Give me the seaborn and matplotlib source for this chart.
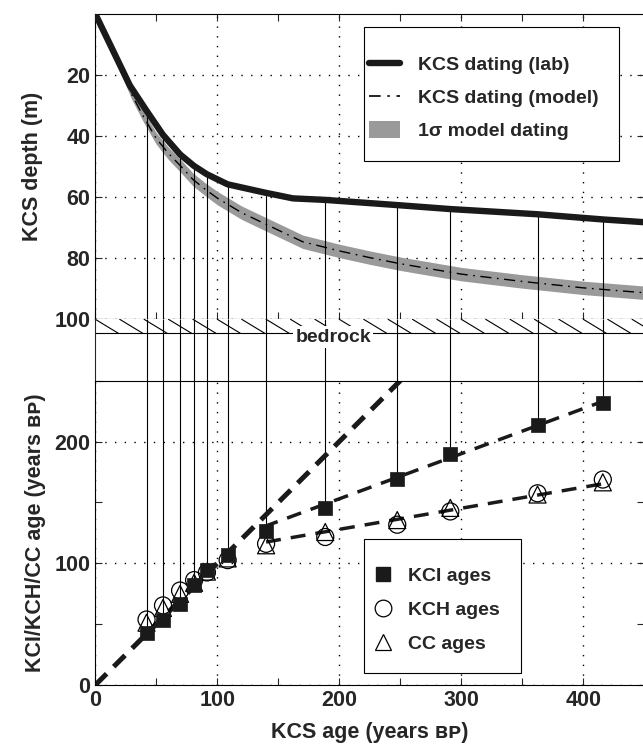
import numpy as np
import pandas as pd
import seaborn as sns
import matplotlib.pyplot as plt
from matplotlib.lines import Line2D
from matplotlib.patches import Patch, Rectangle
from matplotlib.ticker import MultipleLocator

# sample ages (KCS) where lab dating and the ice-core ages were compared
kcs_age = [42, 55.5, 69.5, 81, 91.5, 108.5, 140, 188.5, 247.5, 291, 362.5, 416]
lab_top = [31.7, 39.6, 46.0, 49.8, 52.5, 55.8, 58.6, 60.9, 62.6, 63.9, 65.6, 67.3]
kci_age = [42.6, 53.6, 66.4, 82.5, 94.4, 106.9, 126.8, 145.5, 169.5, 189.7, 213.5, 231.9]
kch_age = [53.8, 65.4, 77.6, 86.2, 92.5, 102.6, 116.0, 121.6, 131.7, 142.6, 157.5, 168.8]
cc_age = [51.2, 63.3, 74.9, 84.0, 93.2, 104.0, 114.8, 125.7, 135.5, 145.5, 156.5, 166.5]

# KCS depth/age curves
lab_age = [0, 28.3, 42, 55.5, 69.5, 81, 91.5, 108.5, 140, 162, 188.5, 247.5, 291, 362.5, 416, 450]
lab_depth = [0, 23.4, 31.7, 39.6, 46.0, 49.8, 52.5, 55.8, 58.6, 60.4, 60.9, 62.6, 63.9, 65.6, 67.3, 68.2]
model_age = [0, 10, 20, 30, 40, 50, 60, 70, 80, 90, 100, 120, 140, 170, 200, 225, 250, 300, 350, 400, 450]
model_depth = [0, 8.5, 17.5, 26.5, 34.0, 40.8, 45.7, 49.8, 54.2, 57.4, 60.3, 65.1, 68.9, 74.6, 77.6,
               79.8, 81.8, 85.2, 87.6, 89.7, 91.3]
model_sigma = [0, 0.8, 1.3, 1.6, 1.8, 1.9, 2.0, 2.1, 2.1, 2.1, 2.2, 2.2, 2.2, 2.2, 2.2,
               2.2, 2.2, 2.2, 2.2, 2.2, 2.2]

# dashed trend lines in the lower panel
one_x = [0, 250]
one_y = [0, 250]
kci_trend_x = [138, 420]
kci_trend_y = [130, 234.5]
cc_trend_x = [140, 420]
cc_trend_y = [117.5, 166]

sns.set_style("ticks")
plt.rcParams['font.family'] = ['Liberation Sans', 'DejaVu Sans']
plt.rcParams['font.weight'] = 'bold'
plt.rcParams['axes.labelweight'] = 'bold'

dark = '#1a1a1a'
fig = plt.figure(figsize=(6.43, 7.45), dpi=100)
left, width = 0.1482, 0.8538
ax1 = fig.add_axes([left, 0.5714, width, 0.4099])
axm = fig.add_axes([left, 0.4890, width, 0.0824])
ax2 = fig.add_axes([left, 0.0805, width, 0.4085])

model = pd.DataFrame({'age': model_age, 'depth': model_depth, 'sig': model_sigma})
lab = pd.DataFrame({'age': lab_age, 'depth': lab_depth})

# ---- top panel: depth vs age
ax1.fill_between(model['age'], model['depth'] - model['sig'], model['depth'] + model['sig'],
                 color='#9a9a9a', lw=0, zorder=1)
sns.lineplot(data=model, x='age', y='depth', ax=ax1, color='k', lw=1.0,
             dashes=False, zorder=2).lines[-1].set_dashes((8, 4, 1.2, 4))
ax1.vlines(kcs_age, lab_top, 100, color='k', lw=0.8, zorder=3)
sns.lineplot(data=lab, x='age', y='depth', ax=ax1, color=dark, lw=4.6, zorder=4)

ax1.set_xlim(0, 450)
ax1.set_ylim(100, 0)
ax1.set_yticks([20, 40, 60, 80, 100])
ax1.xaxis.set_major_locator(MultipleLocator(100))
ax1.xaxis.set_minor_locator(MultipleLocator(50))
ax1.tick_params(axis='x', which='both', top=True, bottom=True, labelbottom=False,
                direction='in', length=5, width=0.8)
ax1.tick_params(axis='y', which='both', left=True, right=True, direction='in',
                length=5, width=0.8, labelsize=15.5)
ax1.grid(True, which='major', color='k', lw=1.0, linestyle=(0, (1, 6)))
ax1.set_xlabel('')
ax1.set_ylabel('KCS depth (m)', fontsize=15.5, labelpad=8)

# legend box drawn by hand so that its padding matches the original
ax1.add_patch(Rectangle((0.489, 0.518), 0.465, 0.439, transform=ax1.transAxes,
                        facecolor='white', edgecolor='k', lw=0.8, zorder=4.5))
h1 = [Line2D([], [], color=dark, lw=4.6),
      Line2D([], [], color='k', lw=1.2, dashes=(7, 4, 1.5, 4)),
      Patch(facecolor='#9a9a9a', edgecolor='none')]
ax1.legend(h1, ['KCS dating (lab)', 'KCS dating (model)', '1σ model dating'],
           loc='upper left', bbox_to_anchor=(0.4985, 0.8655), borderaxespad=0,
           fontsize=14, frameon=False, handlelength=1.6, handleheight=1.0,
           handletextpad=0.93, labelspacing=0.7, borderpad=0)
for sp in ax1.spines.values():
    sp.set_linewidth(0.8)
    sp.set_color('k')

# ---- middle strip: bedrock
axm.set_xlim(0, 450)
axm.set_ylim(120.1, 100)
axm.vlines(kcs_age, 100, 120.1, color='k', lw=0.8)
for x0 in np.arange(0, 450, 20):
    axm.plot([x0, x0 + 19], [100, 104.6], color='k', lw=0.8)
axm.axhline(104.6, color='k', lw=0.8)
axm.text(195, 105.8, 'bedrock', ha='center', va='center', fontsize=14,
         bbox=dict(facecolor='white', edgecolor='none', pad=1.5), zorder=5)
axm.set_xticks([])
axm.set_yticks([])
axm.spines['top'].set_visible(False)
axm.spines['bottom'].set_visible(False)
axm.spines['left'].set_linewidth(0.8)
axm.spines['right'].set_linewidth(0.8)

# ---- bottom panel: ice-core ages vs KCS ages
ax2.vlines(kcs_age, kci_age, 250, color='k', lw=0.8, zorder=1)
ax2.plot(one_x, one_y, color=dark, lw=3.6, dashes=(3.2, 2.0), zorder=2)
ax2.plot(kci_trend_x, kci_trend_y, color=dark, lw=2.5, dashes=(4.3, 2.9), zorder=2)
ax2.plot(cc_trend_x, cc_trend_y, color=dark, lw=2.5, dashes=(4.3, 2.9), zorder=2)

pts = pd.DataFrame({'kcs': kcs_age, 'kci': kci_age, 'kch': kch_age, 'cc': cc_age})
sns.scatterplot(data=pts, x='kcs', y='cc', ax=ax2, marker='^', s=150,
                facecolor='none', edgecolor='k', linewidth=0.9, zorder=3)
sns.scatterplot(data=pts, x='kcs', y='kch', ax=ax2, marker='o', s=150,
                facecolor='none', edgecolor='k', linewidth=0.9, zorder=3)
sns.scatterplot(data=pts, x='kcs', y='kci', ax=ax2, marker='s', s=110,
                color=dark, edgecolor=dark, linewidth=0.5, zorder=4)

ax2.set_xlim(0, 450)
ax2.set_ylim(0, 250)
ax2.xaxis.set_major_locator(MultipleLocator(100))
ax2.xaxis.set_minor_locator(MultipleLocator(50))
ax2.yaxis.set_major_locator(MultipleLocator(100))
ax2.yaxis.set_minor_locator(MultipleLocator(50))
ax2.tick_params(axis='both', which='both', direction='in', length=5, width=0.8,
                left=True, right=True, bottom=True, top=False, labelsize=15.5)
ax2.grid(True, which='major', color='k', lw=1.0, linestyle=(0, (1, 6)))
ax2.set_xlabel('KCS age (years ʙᴘ)', fontsize=15.5, labelpad=8)
ax2.set_ylabel('KCI/KCH/CC age (years ʙᴘ)', fontsize=15.5, labelpad=6)
for sp in ax2.spines.values():
    sp.set_linewidth(0.8)
    sp.set_color('k')

ax2.add_patch(Rectangle((0.489, 0.039), 0.287, 0.441, transform=ax2.transAxes,
                        facecolor='white', edgecolor='k', lw=0.8, zorder=4.5))
h2 = [Line2D([], [], ls='none', marker='s', ms=10, color=dark),
      Line2D([], [], ls='none', marker='o', ms=12, mfc='none', mec='k', mew=0.9),
      Line2D([], [], ls='none', marker='^', ms=12, mfc='none', mec='k', mew=0.9)]
ax2.legend(h2, ['KCI ages', 'KCH ages', 'CC ages'], loc='upper left',
           bbox_to_anchor=(0.502, 0.388), borderaxespad=0, fontsize=14,
           frameon=False, handlelength=1.2, handletextpad=0.7,
           labelspacing=0.85, borderpad=0)

fig.savefig('out.png', dpi=100)
